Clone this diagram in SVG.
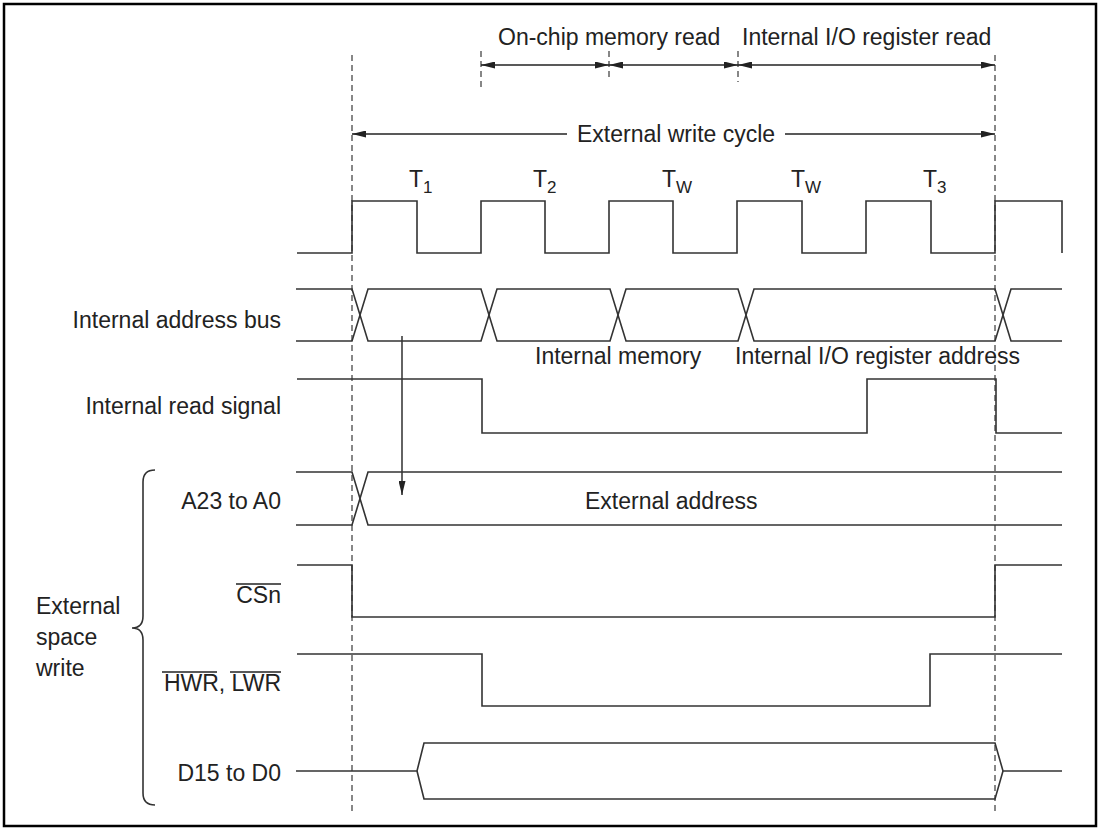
<svg xmlns="http://www.w3.org/2000/svg" width="1100" height="830" viewBox="0 0 1100 830">
<defs>
<marker id="ah" viewBox="0 0 14 7" refX="14" refY="3.5" markerWidth="14" markerHeight="7" markerUnits="userSpaceOnUse" orient="auto-start-reverse">
<path d="M0,0 L14,3.5 L0,7 z" fill="#222"/>
</marker>
</defs>
<style>
text{font-family:"Liberation Sans",Arial,sans-serif;font-size:23px;fill:#222}
.lbl{text-anchor:end}
.sig{fill:none;stroke:#333;stroke-width:1.6;stroke-linejoin:miter}
.dash{fill:none;stroke:#555;stroke-width:1.4;stroke-dasharray:6,4}
.arr{fill:none;stroke:#222;stroke-width:1.4}
.ovl{stroke:#222;stroke-width:1.4}
.sub{font-size:17px}
</style>
<rect x="4" y="4" width="1092" height="822" fill="#fff" stroke="#000" stroke-width="2.5"/>

<g id="guides">
<line class="dash" x1="352" y1="55" x2="352" y2="815"/>
<line class="dash" x1="995" y1="55" x2="995" y2="815"/>
<line class="dash" x1="481" y1="51" x2="481" y2="87"/>
<line class="dash" x1="609" y1="51" x2="609" y2="80"/>
<line class="dash" x1="738" y1="51" x2="738" y2="82"/>
</g>

<g id="connectors">
<line class="arr" x1="481" y1="65" x2="609" y2="65" marker-start="url(#ah)" marker-end="url(#ah)"/>
<line class="arr" x1="609" y1="65" x2="738" y2="65" marker-start="url(#ah)" marker-end="url(#ah)"/>
<line class="arr" x1="738" y1="65" x2="995" y2="65" marker-start="url(#ah)" marker-end="url(#ah)"/>
<line class="arr" x1="567" y1="134" x2="352" y2="134" marker-end="url(#ah)"/>
<line class="arr" x1="785" y1="134" x2="995" y2="134" marker-end="url(#ah)"/>
<line class="arr" x1="402" y1="336" x2="402" y2="495" marker-end="url(#ah)"/>
</g>

<g id="annotations">
<text x="498" y="45">On-chip memory read</text>
<text x="742" y="45">Internal I/O register read</text>
<text x="577" y="142">External write cycle</text>
</g>

<g id="clock">
<path class="sig" d="M297,253 H352 V201 H417 V253 H481 V201 H545 V253 H609 V201 H673 V253 H737 V201 H802 V253 H866 V201 H931 V253 H995 V201 H1062 V253"/>
<text x="409" y="187">T<tspan class="sub" dy="6">1</tspan></text>
<text x="533" y="187">T<tspan class="sub" dy="6">2</tspan></text>
<text x="662" y="187">T<tspan class="sub" dy="6">W</tspan></text>
<text x="791" y="187">T<tspan class="sub" dy="6">W</tspan></text>
<text x="923" y="187">T<tspan class="sub" dy="6">3</tspan></text>
</g>

<g id="internal-address-bus">
<path class="sig" d="M296,289 H352 L368,341 H481 L497,289 H610 L626,341 H738 L754,289 H995 L1011,341 H1062"/>
<path class="sig" d="M296,341 H352 L368,289 H481 L497,341 H610 L626,289 H738 L754,341 H995 L1011,289 H1062"/>
<text class="lbl" x="281" y="328">Internal address bus</text>
<text x="535" y="364">Internal memory</text>
<text x="735" y="364">Internal I/O register address</text>
</g>

<g id="internal-read-signal">
<path class="sig" d="M297,379 H482 V433 H867 V379 H996 V433 H1062"/>
<text class="lbl" x="281" y="414">Internal read signal</text>
</g>

<g id="address-a23-a0">
<path class="sig" d="M296,472 H352 L368,525 H1062"/>
<path class="sig" d="M296,525 H352 L368,472 H1062"/>
<text class="lbl" x="281" y="509">A23 to A0</text>
<text x="585" y="509">External address</text>
</g>

<g id="csn">
<path class="sig" d="M297,565 H352 V617 H995 V565 H1062"/>
<text class="lbl" x="281" y="603">CSn</text>
<line class="ovl" x1="236" y1="584" x2="281" y2="584"/>
</g>

<g id="hwr-lwr">
<path class="sig" d="M297,654 H482 V706 H930 V654 H1062"/>
<text class="lbl" x="281" y="691">HWR, LWR</text>
<line class="ovl" x1="162" y1="672" x2="217" y2="672"/>
<line class="ovl" x1="230" y1="672" x2="281" y2="672"/>
</g>

<g id="d15-d0">
<path class="sig" d="M296,771 H417 L424,743 H995 L1003,771 H1062"/>
<path class="sig" d="M417,771 L424,799 H995 L1003,771"/>
<text class="lbl" x="281" y="781">D15 to D0</text>
</g>

<g id="external-space-write">
<path class="sig" d="M155,470 Q143,470 143,482 V616 Q143,628 132,628 Q143,628 143,640 V793 Q143,805 155,805"/>
<text x="36" y="614">External</text>
<text x="36" y="645">space</text>
<text x="36" y="676">write</text>
</g>
</svg>
